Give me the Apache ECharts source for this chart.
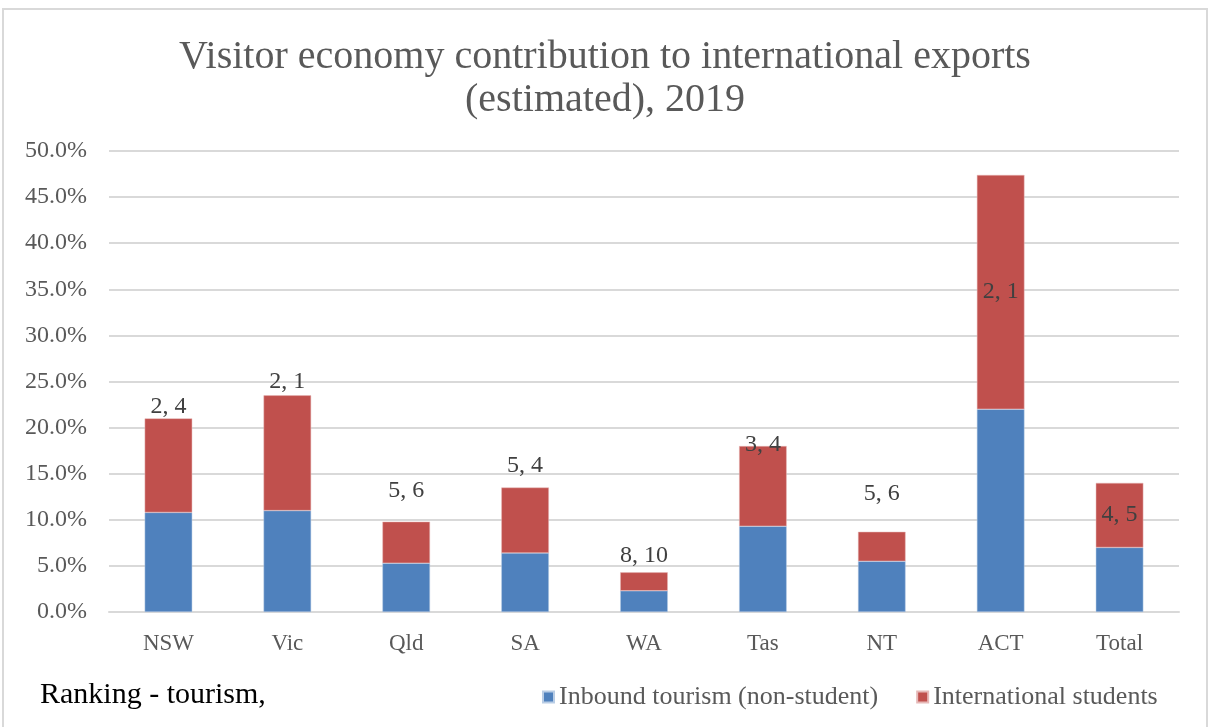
<!DOCTYPE html>
<html>
<head>
<meta charset="utf-8">
<script src="https://cdn.jsdelivr.net/npm/echarts@6/dist/echarts.min.js"></script>
<style>
  html, body { margin: 0; padding: 0; background: #fff; }
  #chart { width: 1210px; height: 727px; }
</style>
</head>
<body>
<div id="chart"></div>
<script>
// Chart data (percent of international exports)
const categories = ['NSW', 'Vic', 'Qld', 'SA', 'WA', 'Tas', 'NT', 'ACT', 'Total'];
const inbound = [10.8, 11.0, 5.3, 6.4, 2.3, 9.3, 5.5, 22.0, 7.0];
const students = [10.2, 12.5, 4.5, 7.1, 2.0, 8.7, 3.2, 25.4, 7.0];
const rankings = ['2, 4', '2, 1', '5, 6', '5, 4', '8, 10', '3, 4', '5, 6', '2, 1', '4, 5'];

// Label placement (Excel labels were moved by hand): gap above bar, or null = inside
const labelGap = [0, 2, 19, 10, 5, -11, 26, null, null];

const FONT = 'Liberation Serif';
const GREY = '#595959';

const chart = echarts.init(document.getElementById('chart'));

const studentData = students.map((v, i) => {
  const gap = labelGap[i];
  return {
    value: v,
    label: gap === null
      ? { position: 'inside' }
      : { position: 'top', distance: gap }
  };
});

const option = {
  animation: false,
  backgroundColor: '#fff',
  title: {
    text: 'Visitor economy contribution to international exports\n(estimated), 2019',
    left: 'center',
    top: 31,
    textStyle: {
      fontFamily: FONT,
      fontSize: 40,
      fontWeight: 'normal',
      color: GREY,
      lineHeight: 43
    }
  },
  grid: { left: 109, right: 31, top: 151, bottom: 115 },
  legend: {
    left: 537,
    top: 679,
    icon: 'rect',
    itemWidth: 11,
    itemHeight: 11,
    itemGap: 38,
    textStyle: { fontFamily: FONT, fontSize: 26, color: GREY }
  },
  xAxis: {
    type: 'category',
    data: categories,
    axisTick: { show: false },
    axisLine: { lineStyle: { color: '#d9d9d9', width: 2 } },
    axisLabel: { fontFamily: FONT, fontSize: 23, color: GREY, margin: 20 }
  },
  yAxis: {
    type: 'value',
    min: 0,
    max: 50,
    interval: 5,
    axisLine: { show: false },
    axisTick: { show: false },
    splitLine: { lineStyle: { color: '#d9d9d9', width: 2 } },
    axisLabel: {
      fontFamily: FONT,
      fontSize: 24,
      color: GREY,
      margin: 22,
      formatter: v => v.toFixed(1) + '%'
    }
  },
  series: [
    {
      name: 'Inbound tourism (non-student)',
      type: 'bar',
      stack: 'total',
      barWidth: '40%',
      itemStyle: { color: '#4f81bd', borderColor: '#b9cde5', borderWidth: 0.5 },
      data: inbound
    },
    {
      name: 'International students',
      type: 'bar',
      stack: 'total',
      barWidth: '40%',
      itemStyle: { color: '#c0504d', borderColor: '#e6b9b8', borderWidth: 0.5 },
      label: {
        show: true,
        fontFamily: FONT,
        fontSize: 24,
        color: '#404040',
        formatter: p => rankings[p.dataIndex]
      },
      data: studentData
    }
  ],
  graphic: [
    {
      type: 'rect',
      shape: { x: 3, y: 9, width: 1204, height: 740 },
      style: { fill: 'none', stroke: '#d9d9d9', lineWidth: 2 },
      silent: true
    },
    {
      type: 'text',
      left: 40,
      top: 680,
      style: { text: 'Ranking - tourism,', font: '30px "Liberation Serif"', fill: '#000' }
    }
  ]
};

chart.setOption(option);
</script>
</body>
</html>
